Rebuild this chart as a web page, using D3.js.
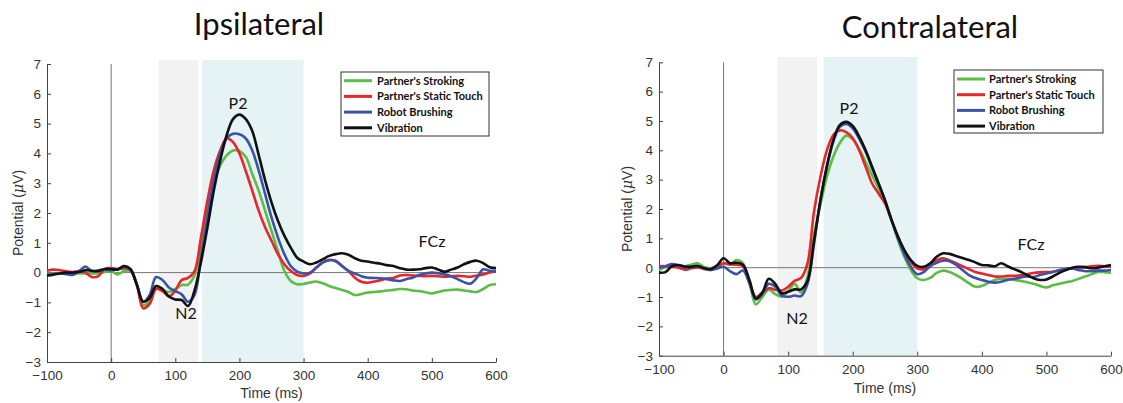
<!DOCTYPE html>
<html>
<head>
<meta charset="utf-8">
<script src="https://cdn.jsdelivr.net/npm/d3@7"></script>
<style>
  body { margin: 0; background: #fff; }
  svg { display: block; }
</style>
</head>
<body>
<svg id="chart" width="1123" height="403"></svg>
<script>
// ---------- data ----------
// sample times (ms) shared by every waveform
const timesMs = [-100,-90,-80,-70,-60,-50,-40,-30,-20,-10,0,10,20,30,40,50,60,70,80,90,
  100,110,120,130,140,150,160,170,180,190,200,210,220,230,240,250,260,270,280,290,
  300,310,320,330,340,350,360,370,380,390,400,410,420,430,440,450,460,470,480,490,
  500,510,520,530,540,550,560,570,580,590,600];

const seriesNames = ["Partner's Stroking", "Partner's Static Touch", "Robot Brushing", "Vibration"];

// Ipsilateral waveforms (µV)
const ipsiStroking = [-0.05,-0.03,-0.02,0.00,-0.02,-0.03,-0.03,-0.03,-0.02,0.02,0.05,-0.06,0.05,0.05,-0.40,-1.10,-0.95,-0.45,-0.58,-0.65,
  -0.55,-0.42,-0.40,-0.10,0.84,2.08,2.98,3.60,3.93,4.10,4.08,3.88,3.31,2.75,2.08,1.40,0.73,0.06,-0.28,-0.39,
  -0.38,-0.33,-0.30,-0.36,-0.45,-0.52,-0.58,-0.65,-0.75,-0.72,-0.67,-0.65,-0.63,-0.60,-0.58,-0.55,-0.56,-0.60,-0.62,-0.66,
  -0.70,-0.65,-0.60,-0.58,-0.57,-0.60,-0.63,-0.65,-0.55,-0.42,-0.39];
const ipsiStatic = [0.06,0.10,0.08,0.04,0.02,0.05,0.00,-0.15,-0.12,0.12,0.15,0.12,0.14,0.10,-0.40,-1.20,-1.05,-0.55,-0.62,-0.80,
  -0.60,-0.25,-0.18,0.05,1.18,2.40,3.43,4.10,4.50,4.38,4.00,3.40,2.75,2.08,1.52,1.07,0.62,0.28,0.05,-0.08,
  -0.11,-0.03,0.17,0.34,0.42,0.40,0.22,0.05,-0.17,-0.31,-0.34,-0.30,-0.26,-0.20,-0.18,-0.10,-0.08,-0.10,-0.11,-0.12,
  -0.11,-0.12,-0.14,-0.12,-0.11,-0.12,-0.14,-0.10,-0.06,0.00,0.05];
const ipsiRobot = [-0.08,-0.05,-0.03,-0.05,-0.08,0.05,0.20,0.05,0.08,0.10,0.08,0.12,0.18,0.10,-0.40,-0.98,-0.75,-0.15,-0.25,-0.50,
  -0.62,-0.73,-0.98,-0.75,0.50,1.85,3.10,4.00,4.50,4.66,4.64,4.50,4.10,3.43,2.64,1.85,1.18,0.62,0.22,0.03,
  -0.03,0.00,0.17,0.34,0.42,0.38,0.22,0.06,-0.03,-0.12,-0.17,-0.18,-0.19,-0.22,-0.26,-0.28,-0.22,-0.17,-0.08,-0.03,
  0.00,-0.02,-0.06,-0.12,-0.22,-0.32,-0.37,-0.18,0.11,0.06,0.04];
const ipsiVibration = [-0.10,-0.07,-0.03,0.00,0.00,0.02,0.08,0.06,0.05,0.12,0.12,0.10,0.22,0.12,-0.40,-0.98,-0.85,-0.45,-0.55,-0.80,
  -0.90,-0.92,-1.12,-0.60,0.35,1.50,2.75,3.76,4.60,5.15,5.30,5.15,4.75,3.95,3.10,2.36,1.74,1.24,0.84,0.50,
  0.37,0.28,0.34,0.45,0.56,0.62,0.65,0.60,0.48,0.40,0.37,0.33,0.30,0.25,0.22,0.15,0.10,0.10,0.11,0.15,
  0.17,0.10,0.03,0.10,0.17,0.28,0.36,0.40,0.32,0.18,0.15];

// Contralateral waveforms (µV)
const contraStroking = [-0.08,0.02,0.08,0.06,0.05,0.10,0.15,0.02,-0.02,0.05,0.15,0.10,0.26,0.15,-0.50,-1.25,-1.00,-0.75,-0.90,-0.99,
  -0.80,-0.55,-0.85,-0.30,1.10,2.15,3.10,3.78,4.25,4.50,4.38,4.05,3.60,3.15,2.70,2.25,1.65,0.95,0.37,-0.08,
  -0.36,-0.42,-0.35,-0.18,-0.10,-0.15,-0.25,-0.38,-0.53,-0.65,-0.62,-0.52,-0.42,-0.38,-0.38,-0.42,-0.45,-0.50,-0.55,-0.62,
  -0.67,-0.60,-0.55,-0.50,-0.45,-0.38,-0.30,-0.22,-0.15,-0.15,-0.17];
const contraStatic = [0.05,0.05,0.03,0.00,-0.07,-0.02,0.01,-0.04,-0.08,0.02,0.15,0.12,0.10,0.05,-0.50,-1.00,-0.85,-0.70,-0.75,-0.78,
  -0.65,-0.45,-0.35,0.15,1.90,3.10,4.00,4.52,4.68,4.62,4.41,4.00,3.44,2.87,2.53,2.19,1.63,1.06,0.55,0.20,
  -0.02,-0.05,0.10,0.26,0.32,0.25,0.15,0.05,-0.05,-0.15,-0.20,-0.25,-0.30,-0.30,-0.28,-0.28,-0.26,-0.22,-0.18,-0.16,
  -0.15,-0.14,-0.10,-0.05,-0.02,0.00,0.02,0.05,0.06,0.05,0.04];
const contraRobot = [0.00,0.05,0.12,0.08,0.00,0.02,0.04,-0.02,-0.08,-0.03,0.03,-0.12,-0.22,-0.10,-0.53,-1.08,-0.90,-0.55,-0.65,-0.95,
  -0.99,-0.95,-0.97,-0.55,0.80,2.30,3.45,4.30,4.80,4.90,4.75,4.40,3.95,3.40,2.85,2.28,1.62,1.00,0.45,0.03,
  -0.22,-0.15,0.05,0.17,0.24,0.22,0.10,-0.08,-0.25,-0.35,-0.42,-0.48,-0.51,-0.48,-0.42,-0.38,-0.33,-0.30,-0.32,-0.25,
  -0.20,-0.15,-0.08,-0.05,-0.03,-0.08,-0.12,-0.12,-0.10,-0.10,-0.08];
const contraVibration = [-0.17,-0.15,0.05,0.09,0.04,0.03,0.06,-0.02,-0.05,0.08,0.32,0.15,0.17,0.10,-0.42,-1.05,-0.85,-0.38,-0.55,-0.87,
  -0.82,-0.74,-0.74,-0.45,0.90,2.30,3.45,4.35,4.86,4.97,4.83,4.47,4.00,3.44,2.88,2.30,1.63,1.06,0.60,0.26,
  0.06,0.03,0.15,0.37,0.49,0.47,0.40,0.33,0.26,0.18,0.09,0.08,0.05,0.15,0.05,-0.05,-0.14,-0.25,-0.36,-0.42,
  -0.40,-0.30,-0.18,-0.08,0.00,0.03,0.02,-0.02,0.00,0.05,0.09];

const xTicks = [-100, 0, 100, 200, 300, 400, 500, 600];
const yTicks = [-3, -2, -1, 0, 1, 2, 3, 4, 5, 6, 7];

// analysis windows (ms): [N2 window, P2 window]
const ipsiWindows = [[74, 136], [142, 300]];
const contraWindows = [[83, 145], [155, 300]];

// ---------- styles ----------
const seriesColors = ["#5cbd45", "#e8252b", "#3a53a6", "#111111"];
const windowColors = ["#f2f2f2", "#e5f3f4"];
const calibriLike = "Lato, 'Open Sans', sans-serif";
const arialLike = "'Liberation Sans', Arial, sans-serif";

const svg = d3.select("#chart");

const panels = [
  {
    title: "Ipsilateral", titleX: 259, titleY: 35,
    series: [ipsiStroking, ipsiStatic, ipsiRobot, ipsiVibration],
    windows: ipsiWindows,
    xRange: [47, 496], yRange: [362, 64], shadeTop: 60,
    tickPad: 8, xLabelY: 398, yLabelX: 18,
    legend: { x: 341, y: 72, w: 148, h: 64, row0: 80.7, rowStep: 15.7, lineX0: 344, lineX1: 372, textX: 377 },
    p2: [238, 109], n2: [186, 319], fcz: [432, 247]
  },
  {
    title: "Contralateral", titleX: 930, titleY: 38,
    series: [contraStroking, contraStatic, contraRobot, contraVibration],
    windows: contraWindows,
    xRange: [659, 1111], yRange: [355.7, 62.3], shadeTop: 57,
    tickPad: 9, xLabelY: 393, yLabelX: 627,
    legend: { x: 954, y: 70, w: 149, h: 63, row0: 79, rowStep: 15.7, lineX0: 957, lineX1: 985, textX: 989 },
    p2: [849, 114], n2: [797, 324], fcz: [1031, 250]
  }
];

panels.forEach(p => {
  const g = svg.append("g");
  const x = d3.scaleLinear().domain([-100, 600]).range(p.xRange);
  const y = d3.scaleLinear().domain([-3, 7]).range(p.yRange);

  // title
  g.append("text")
    .attr("x", p.titleX).attr("y", p.titleY)
    .attr("text-anchor", "middle")
    .style("font-family", calibriLike).style("font-size", "31px").style("fill", "#111")
    .text(p.title);

  // shaded time windows
  g.selectAll("rect.win").data(p.windows).join("rect")
    .attr("class", "win")
    .attr("x", d => x(d[0]))
    .attr("width", d => x(d[1]) - x(d[0]))
    .attr("y", p.shadeTop)
    .attr("height", y(-3) - p.shadeTop)
    .attr("fill", (d, i) => windowColors[i]);

  // zero reference lines
  g.append("line")
    .attr("x1", x(-100)).attr("x2", x(600)).attr("y1", y(0)).attr("y2", y(0))
    .attr("stroke", "#777").attr("stroke-width", 1);
  g.append("line")
    .attr("x1", x(0)).attr("x2", x(0)).attr("y1", y(-3)).attr("y2", y(7))
    .attr("stroke", "#777").attr("stroke-width", 1);

  // axes (MATLAB style, inward ticks)
  const xAxis = g.append("g")
    .attr("transform", `translate(0,${y(-3)})`)
    .call(d3.axisBottom(x).tickValues(xTicks).tickSizeInner(-4).tickSizeOuter(0).tickPadding(p.tickPad));
  const yAxis = g.append("g")
    .attr("transform", `translate(${x(-100)},0)`)
    .call(d3.axisLeft(y).tickValues(yTicks).tickSizeInner(-4).tickSizeOuter(0).tickPadding(6));
  [xAxis, yAxis].forEach(a => {
    a.select(".domain").attr("stroke", "#444").attr("stroke-width", 1);
    a.selectAll(".tick line").attr("stroke", "#444");
    a.selectAll(".tick text")
      .style("font-family", arialLike).style("font-size", "13.5px").style("fill", "#333");
  });

  // axis labels
  g.append("text")
    .attr("x", (p.xRange[0] + p.xRange[1]) / 2).attr("y", p.xLabelY)
    .attr("text-anchor", "middle")
    .style("font-family", arialLike).style("font-size", "14px").style("fill", "#333")
    .text("Time (ms)");
  const yl = g.append("text")
    .attr("transform", `translate(${p.yLabelX},${(p.yRange[0] + p.yRange[1]) / 2}) rotate(-90)`)
    .attr("text-anchor", "middle").attr("dy", "0.35em")
    .style("font-family", arialLike).style("font-size", "14px").style("fill", "#333");
  yl.append("tspan").text("Potential (");
  yl.append("tspan").style("font-style", "italic").style("font-family", "'DejaVu Serif', serif").text("μ");
  yl.append("tspan").text("V)");

  // waveforms
  const line = d3.line()
    .x((d, i) => x(timesMs[i]))
    .y(d => y(d))
    .curve(d3.curveCatmullRom.alpha(0.5));
  g.selectAll("path.wave").data(p.series).join("path")
    .attr("class", "wave")
    .attr("d", d => line(d))
    .attr("fill", "none")
    .attr("stroke", (d, i) => seriesColors[i])
    .attr("stroke-width", 2.6)
    .attr("stroke-linejoin", "round");

  // component labels
  const ann = (pos, txt, size) => g.append("text")
    .attr("x", pos[0]).attr("y", pos[1]).attr("text-anchor", "middle")
    .style("font-family", calibriLike).style("font-size", size).style("fill", "#111")
    .text(txt);
  ann(p.p2, "P2", "16px");
  ann(p.n2, "N2", "16px");
  ann(p.fcz, "FCz", "16px");

  // legend
  const L = p.legend;
  const lg = g.append("g");
  lg.append("rect")
    .attr("x", L.x).attr("y", L.y).attr("width", L.w).attr("height", L.h)
    .attr("fill", "#fff").attr("stroke", "#333").attr("stroke-width", 1);
  const rows = lg.selectAll("g.row").data(seriesNames).join("g").attr("class", "row")
    .attr("transform", (d, i) => `translate(0,${L.row0 + i * L.rowStep})`);
  rows.append("line")
    .attr("x1", L.lineX0).attr("x2", L.lineX1)
    .attr("stroke", (d, i) => seriesColors[i]).attr("stroke-width", 3);
  rows.append("text")
    .attr("x", L.textX).attr("dy", "0.35em")
    .style("font-family", calibriLike).style("font-size", "11px").style("font-weight", "bold").style("fill", "#111")
    .text(d => d);
});
</script>
</body>
</html>
